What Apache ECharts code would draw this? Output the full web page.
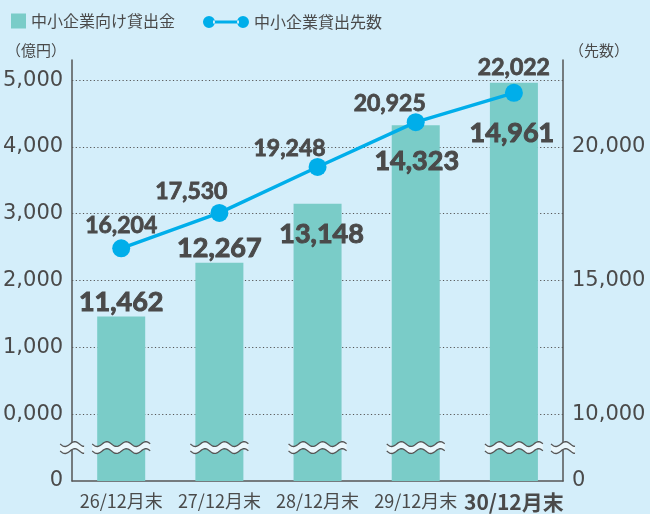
<!DOCTYPE html>
<html>
<head>
<meta charset="utf-8">
<script src="https://cdn.jsdelivr.net/npm/echarts@6/dist/echarts.min.js"></script>
<style>
html,body{margin:0;padding:0;background:#d4eefa;}
#chart{width:650px;height:514px;}
</style>
</head>
<body>
<div id="chart"></div>
<script>
// ---- data ----
const categories = ['26/12月末', '27/12月末', '28/12月末', '29/12月末', '30/12月末'];
const loanAmounts = [11462, 12267, 13148, 14323, 14961];      // 億円
const borrowerCounts = [16204, 17530, 19248, 20925, 22022];   // 先
const seriesNames = ['中小企業向け貸出金', '中小企業貸出先数'];
const axisNames = ['（億円）', '（先数）'];
const leftTickValues = [9000, 10000, 11000, 12000, 13000, 14000, 15000];
const leftTickLabels = ['0', '0,000', '1,000', '2,000', '3,000', '4,000', '5,000'];
const rightTickValues = [7500, 10000, 15000, 20000];
const rightTickLabels = ['0', '10,000', '15,000', '20,000'];
const breakValue = 9500; // where the axis break marks sit (left axis units)

// ---- styles ----
const BG = '#d4eefa';
const BAR_COLOR = '#7accc8';
const LINE_COLOR = '#00aeea';
const TEXT = '#4a4a4a';
const AXIS = '#555555';
const NUM_FONT = 'Lato, "DejaVu Sans", sans-serif';
const AXIS_FONT = '"DejaVu Sans", "Noto Sans CJK JP", sans-serif';
const JP_FONT = '"Noto Sans CJK JP", sans-serif';
const BAR_WIDTH = 48;

// label placement (relative to the 'top' position)
const barLabelOffsets = [[0, 0], [0, 0], [4, 45], [1, 51], [-2, 65]];
const lineLabelOffsets = [[0, 0], [-28, 1], [-28, 4], [-26, 4], [0, -3]];

const fmt = v => v.toLocaleString('en-US');

function wave(x0, w, cy, amp, period) {
  const pts = [];
  for (let x = 0; x <= w; x += 1) {
    pts.push([x0 + x, cy + amp * Math.sin(2 * Math.PI * x / period)]);
  }
  return pts;
}
function breakMark(cx, cy, w, period) {
  const top = wave(cx - w / 2, w, cy - 3.5, 2.4, period);
  const bot = wave(cx - w / 2, w, cy + 3.5, 2.4, period);
  return [
    { type: 'polygon', shape: { points: top.concat(bot.slice().reverse()) },
      style: { fill: '#eaf7fc', stroke: null } },
    { type: 'polyline', shape: { points: top }, style: { stroke: AXIS, lineWidth: 1.3, fill: null } },
    { type: 'polyline', shape: { points: bot }, style: { stroke: AXIS, lineWidth: 1.3, fill: null } }
  ];
}

const chart = echarts.init(document.getElementById('chart'), null, { renderer: 'canvas' });

const option = {
  backgroundColor: BG,
  animation: false,
  legend: [
    {
      data: [seriesNames[0]], left: 6, top: 8, icon: 'rect',
      itemWidth: 15, itemHeight: 15, itemGap: 8,
      textStyle: { fontSize: 16, color: TEXT, fontFamily: JP_FONT }
    },
    {
      data: [{ name: seriesNames[1],
        icon: 'path://M0,6a6,6 0 1,0 12,0a6,6 0 1,0 -12,0Z M34,6a6,6 0 1,0 12,0a6,6 0 1,0 -12,0Z M10,4.5H36V7.5H10Z' }],
      left: 198, top: 9, itemWidth: 46, itemHeight: 12,
      textStyle: { fontSize: 16, color: TEXT, fontFamily: JP_FONT }
    }
  ],
  grid: { left: 72, right: 87, top: 60, bottom: 33, containLabel: false },
  xAxis: {
    type: 'category',
    data: categories.map((c, i) => i === categories.length - 1
      ? { value: c, textStyle: { fontWeight: 'bold', fontSize: 21, color: TEXT } }
      : c),
    axisLine: { lineStyle: { color: AXIS, width: 1.5 } },
    axisTick: { show: false },
    axisLabel: { interval: 0, fontSize: 18, color: TEXT, fontFamily: JP_FONT, margin: 11 },
    splitLine: { show: false }
  },
  yAxis: [
    {
      type: 'value', min: 9000, max: 15300, interval: 1000,
      name: axisNames[0], nameLocation: 'end', nameGap: 10,
      nameTextStyle: { align: 'right', verticalAlign: 'middle', fontSize: 15, color: TEXT,
        fontFamily: JP_FONT, padding: [0, 6, 0, 0] },
      axisLine: { show: true, lineStyle: { color: AXIS, width: 1.5 } },
      axisTick: { show: false },
      axisLabel: {
        fontSize: 21, color: TEXT, fontFamily: AXIS_FONT, margin: 9, showMaxLabel: true,
        formatter: v => { const i = leftTickValues.indexOf(v); return i >= 0 ? leftTickLabels[i] : ''; }
      },
      splitLine: { show: true, showMinLine: false, showMaxLine: false,
        lineStyle: { color: AXIS, width: 1.2, type: [1.2, 2.4] } }
    },
    {
      type: 'value', min: 7500, max: 23250, interval: 2500,
      name: axisNames[1], nameLocation: 'end', nameGap: 10,
      nameTextStyle: { align: 'left', verticalAlign: 'middle', fontSize: 15, color: TEXT,
        fontFamily: JP_FONT, padding: [0, 0, 0, 6] },
      axisLine: { show: true, lineStyle: { color: AXIS, width: 1.5 } },
      axisTick: { show: false },
      axisLabel: {
        fontSize: 21, color: TEXT, fontFamily: AXIS_FONT, margin: 9,
        formatter: v => { const i = rightTickValues.indexOf(v); return i >= 0 ? rightTickLabels[i] : ''; }
      },
      splitLine: { show: false }
    }
  ],
  series: [
    {
      name: seriesNames[0], type: 'bar', yAxisIndex: 0, barWidth: BAR_WIDTH,
      itemStyle: { color: BAR_COLOR },
      data: loanAmounts.map((v, i) => ({
        value: v,
        label: { show: true, position: 'top', distance: 1, offset: barLabelOffsets[i],
          formatter: p => fmt(p.value), fontSize: 27, fontWeight: 'bold',
          fontFamily: NUM_FONT, color: TEXT, textBorderColor: TEXT, textBorderWidth: 1 }
      })),
      z: 2
    },
    {
      name: seriesNames[1], type: 'line', yAxisIndex: 1,
      symbol: 'circle', symbolSize: 18,
      lineStyle: { color: LINE_COLOR, width: 3.5 },
      itemStyle: { color: LINE_COLOR },
      data: borrowerCounts.map((v, i) => ({
        value: v,
        label: { show: true, position: 'top', distance: 2, offset: lineLabelOffsets[i],
          formatter: p => fmt(p.value), fontSize: 23, fontWeight: 'bold',
          fontFamily: NUM_FONT, color: TEXT, textBorderColor: TEXT, textBorderWidth: 0.8 }
      })),
      z: 5
    },
    {
      type: 'custom', yAxisIndex: 0, silent: true, z: 4,
      data: categories.map((c, i) => [i, breakValue]),
      renderItem: (params, api) => {
        const p = api.coord([api.value(0), api.value(1)]);
        let children = breakMark(p[0], p[1], BAR_WIDTH + 10, 19.5);
        if (params.dataIndex === 0) {
          const cs = params.coordSys;
          children = children.concat(breakMark(cs.x, p[1], 24, 19.5))
                             .concat(breakMark(cs.x + cs.width, p[1], 24, 19.5));
        }
        return { type: 'group', children: children };
      }
    }
  ]
};
chart.setOption(option);
</script>
</body>
</html>
